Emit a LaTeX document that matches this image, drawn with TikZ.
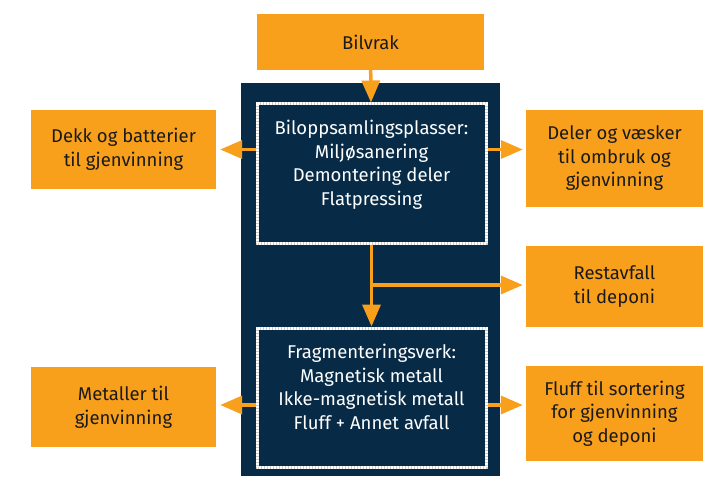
\documentclass[tikz,border=0pt]{standalone}
\usepackage{fontspec}
\setmainfont{Fira Sans}
\usetikzlibrary{arrows.meta}
\definecolor{oransje}{HTML}{F8A01C}
\definecolor{marine}{HTML}{072B47}
\definecolor{tekst}{HTML}{1A1A1A}

\begin{document}
\begin{tikzpicture}[x=1pt,y=-1pt,
  orangebox/.style={fill=oransje,text=tekst,align=center,inner sep=0pt,
    font=\fontsize{18.5}{23.5}\selectfont},
  stepbox/.style={draw=white!60!gray,line width=3pt,minimum width=229pt,
    minimum height=139pt,inner sep=0pt,
    postaction={draw=white,line width=3pt,dash pattern=on 0.6pt off 0.9pt}},
  boxtext/.style={text=white,align=center,inner sep=0pt,
    font=\fontsize{18.5}{23.5}\selectfont},
  pil/.style={draw=oransje,line width=3.5pt,
    -{Triangle[length=22pt,width=18pt]}}]
\useasboundingbox (0,0) rectangle (703,476);
\fill[marine] (241,83) rectangle (500,476);

\node[orangebox,minimum width=227pt,minimum height=56pt] (bilvrak) at (370.5,42) {Bilvrak};
\node[orangebox,minimum width=185pt,minimum height=79pt] (dekk) at (123.5,149.5) {Dekk og batterier\\til gjenvinning};
\node[orangebox,minimum width=177pt,minimum height=97pt] (deler) at (614.5,158.5) {Deler og væsker\\til ombruk og\\gjenvinning};
\node[orangebox,minimum width=177pt,minimum height=81pt] (rest) at (614.5,286.5) {Restavfall\\til deponi};
\node[orangebox,minimum width=185pt,minimum height=80pt] (metall) at (123.5,407) {Metaller til\\gjenvinning};
\node[orangebox,minimum width=177pt,minimum height=95pt] (fluff) at (614.5,413.5) {Fluff til sortering\\for gjenvinning\\og deponi};

\node[stepbox] (box1) at (371.5,173.5) {};
\node[boxtext] (box1txt) at (371.5,165) {Biloppsamlingsplasser:\\Miljøsanering\\Demontering deler\\Flatpressing};
\node[stepbox] (box2) at (371.5,397.5) {};
\node[boxtext] (box2txt) at (371.5,387) {Fragmenteringsverk:\\Magnetisk metall\\Ikke-magnetisk metall\\Fluff + Annet avfall};

\coordinate (gren) at (371.5,285);

\draw[pil] (bilvrak) -- (box1);
\draw[pil] (box1.west |- dekk) -- ([xshift=4pt]dekk.east);
\draw[pil] (box1.east |- dekk) -- ([xshift=-3pt]deler.west |- dekk);
\draw[pil] (box1) -- (box2);
\draw[pil] (gren) -- ([xshift=-3pt]gren -| rest.west);
\draw[pil] (box2.west |- 0,405) -- ([xshift=4pt]metall.east |- 0,405);
\draw[pil] (box2.east |- 0,405) -- ([xshift=-3pt]fluff.west |- 0,405);
\end{tikzpicture}
\end{document}
